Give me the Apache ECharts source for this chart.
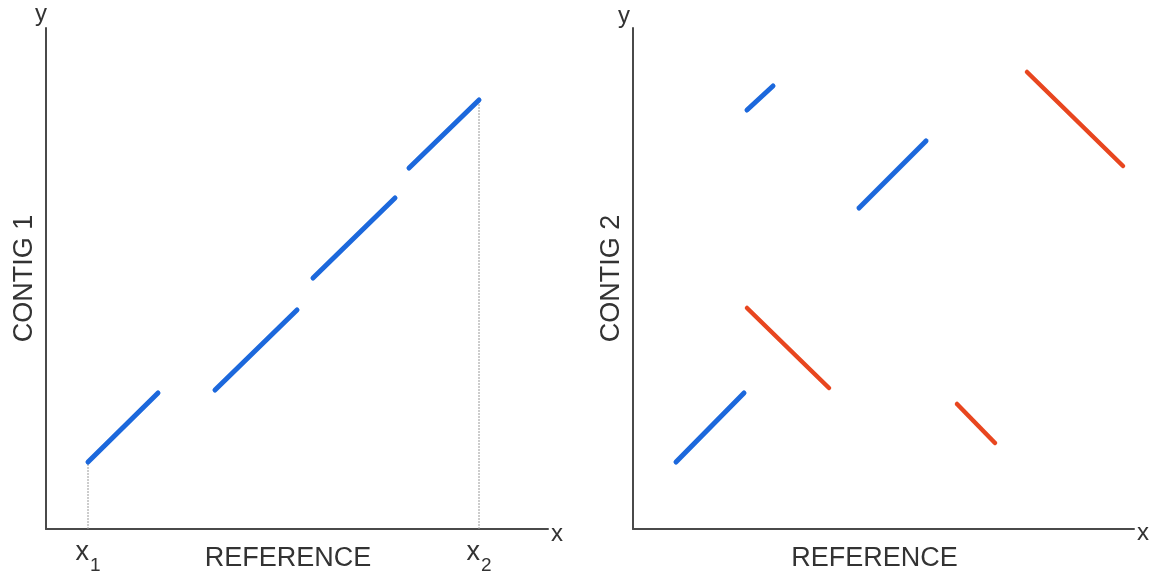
<!DOCTYPE html>
<html>
<head>
<meta charset="utf-8">
<script src="https://cdn.jsdelivr.net/npm/echarts@6/dist/echarts.min.js"></script>
<style>html,body{margin:0;padding:0;background:#fff}#c{width:1152px;height:580px}</style>
</head>
<body>
<div id="c"></div>
<script>
// Panel 1 (CONTIG 1) – blue segments [x0, y0, x1, y1]
const contig1Blue = [
  [42, 67, 112, 136],
  [169, 139, 251, 219],
  [267, 251, 349, 331],
  [363, 361, 433, 429]
];
// reference boundary ticks on panel 1
const refTicks = [42, 433];
const refTickLabels = ['1', '2'];
const guideHeights = [67, 429];

// Panel 2 (CONTIG 2)
const contig2Blue = [
  [43, 67, 111, 136],
  [114, 419, 140, 443],
  [226, 321, 293, 388]
];
const contig2Red = [
  [114, 221, 196, 141],
  [394, 457, 490, 363],
  [324, 125, 362, 86]
];

const axisNames = { x: 'REFERENCE', y1: 'CONTIG 1', y2: 'CONTIG 2' };

const BLUE = '#1c68dc';
const RED = '#e8461f';
const AX = '#4a4a4a';
const TXT = '#333333';
const FONT = '"Liberation Sans", Arial, sans-serif';

function segSeries(segs, color, width, gridIdx) {
  return segs.map(s => ({
    type: 'line',
    xAxisIndex: gridIdx, yAxisIndex: gridIdx,
    data: [[s[0], s[1]], [s[2], s[3]]],
    showSymbol: false, symbol: 'none', silent: true,
    lineStyle: { color: color, width: width, cap: 'round' },
    z: 3
  }));
}

const guideSeries = refTicks.map((x, i) => ({
  type: 'line', xAxisIndex: 0, yAxisIndex: 0,
  data: [[x, 0], [x, guideHeights[i]]],
  showSymbol: false, symbol: 'none', silent: true,
  lineStyle: { color: '#9a9a9a', width: 1, type: [2, 1] },
  z: 2
}));

function xAxisCfg(gridIdx, max, withTicks, namePad) {
  const a = {
    type: 'value', gridIndex: gridIdx, min: 0, max: max,
    name: axisNames.x, nameLocation: 'middle', nameGap: 16, nameMoveOverlap: false,
    nameTextStyle: { fontFamily: FONT, fontSize: 27, color: TXT, padding: namePad },
    axisLine: { show: true, onZero: false, lineStyle: { color: AX, width: 2 } },
    axisTick: { show: false },
    splitLine: { show: false },
    axisLabel: { show: false }
  };
  if (withTicks) {
    a.axisLabel = {
      show: true, customValues: refTicks, margin: 10,
      formatter: function (v) {
        const i = refTicks.indexOf(v);
        return '{b|x}{s|' + refTickLabels[i] + '}';
      },
      rich: {
        b: { fontFamily: FONT, fontSize: 27, color: TXT, verticalAlign: 'top', lineHeight: 22 },
        s: { fontFamily: FONT, fontSize: 19, color: TXT, verticalAlign: 'top', padding: [17, 0, 0, 1], lineHeight: 20 }
      }
    };
  }
  return a;
}

function yAxisCfg(gridIdx, name) {
  return {
    type: 'value', gridIndex: gridIdx, min: 0, max: 501,
    name: name, nameLocation: 'middle', nameGap: 8, nameRotate: 90, nameMoveOverlap: false,
    nameTextStyle: { fontFamily: FONT, fontSize: 27, color: TXT },
    axisLine: { show: true, onZero: false, lineStyle: { color: AX, width: 2 } },
    axisTick: { show: false }, splitLine: { show: false }, axisLabel: { show: false }
  };
}

const chart = echarts.init(document.getElementById('c'), null, { renderer: 'canvas' });
chart.setOption({
  backgroundColor: '#ffffff',
  animation: false,
  grid: [
    { left: 46, top: 28, width: 502, height: 501, containLabel: false, outerBoundsMode: 'none' },
    { left: 633, top: 28, width: 501, height: 501, containLabel: false, outerBoundsMode: 'none' }
  ],
  xAxis: [xAxisCfg(0, 502, true, [0, 18, 0, 0]), xAxisCfg(1, 501, false, [0, 18, 0, 0])],
  yAxis: [yAxisCfg(0, axisNames.y1), yAxisCfg(1, axisNames.y2)],
  graphic: [
    { type: 'text', left: 551, top: 522, style: { text: 'x', font: '24px ' + FONT, fill: TXT } },
    { type: 'text', left: 1137, top: 521, style: { text: 'x', font: '24px ' + FONT, fill: TXT } },
    { type: 'text', left: 35, top: 2, style: { text: 'y', font: '24px ' + FONT, fill: TXT } },
    { type: 'text', left: 618, top: 4, style: { text: 'y', font: '24px ' + FONT, fill: TXT } }
  ],
  series: [].concat(
    guideSeries,
    segSeries(contig1Blue, BLUE, 5, 0),
    segSeries(contig2Blue, BLUE, 5, 1),
    segSeries(contig2Red, RED, 4.5, 1)
  )
});
</script>
</body>
</html>
